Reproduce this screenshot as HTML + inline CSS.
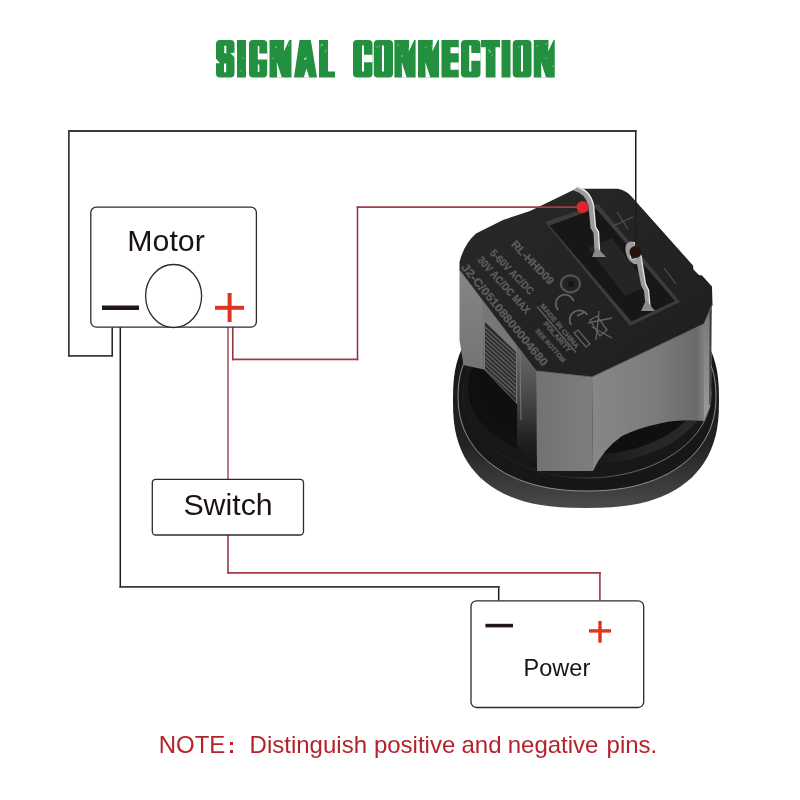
<!DOCTYPE html>
<html><head><meta charset="utf-8">
<style>
html,body{margin:0;padding:0;background:#fff;width:800px;height:800px;overflow:hidden}
svg{display:block;will-change:transform}
text{font-family:"Liberation Sans",sans-serif}
</style></head>
<body>
<svg width="800" height="800" viewBox="0 0 800 800">
<rect width="800" height="800" fill="#fff"/>
<!-- title -->
<path d="M220,40H230.5Q234.5,40 234.5,44V73.5Q234.5,77.5 230.5,77.5H220Q216,77.5 216,73.5V44Q216,40 220,40ZM237,40H246V77.5H237ZM253,40H263.2Q267.2,40 267.2,44V73.5Q267.2,77.5 263.2,77.5H253Q249,77.5 249,73.5V44Q249,40 253,40ZM269.5,40H291.5V77.5H269.5ZM299.5,40H310.8L317,77.5H294ZM319,40H328V71.5H335V77.5H319ZM357,40H368.5Q372.5,40 372.5,44V73.5Q372.5,77.5 368.5,77.5H357Q353,77.5 353,73.5V44Q353,40 357,40ZM377.75,40H389Q393,40 393,44V73.5Q393,77.5 389,77.5H377.75Q373.75,77.5 373.75,73.5V44Q373.75,40 377.75,40ZM394.4,40H415.6V77.5H394.4ZM418,40H439V77.5H418ZM441.5,40H458.75V77.5H441.5ZM465,40H476.5Q480.5,40 480.5,44V73.5Q480.5,77.5 476.5,77.5H465Q461,77.5 461,73.5V44Q461,40 465,40ZM481,40H500V47.25H495.5V77.5H485.75V47.25H481ZM501.5,40H510.5V77.5H501.5ZM516.75,40H527.5Q531.5,40 531.5,44V73.5Q531.5,77.5 527.5,77.5H516.75Q512.75,77.5 512.75,73.5V44Q512.75,40 516.75,40ZM533.75,40H554.75V77.5H533.75Z" fill="#22903f"/>
<path d="M224.3,45.8H226.3V53.2H224.3ZM234.7,52.5L230.5,53.3L234.7,57.5ZM224,63.4H226.2V72.2H224ZM215.8,58.5L215.8,63.2L220,63.2ZM257.8,46H259.3V59.5H257.8ZM259.3,53.5H267.3V59.5H259.3ZM257.8,64.4H259.3V72H257.8ZM303.8,77.6L306.5,68.5L309.2,77.6ZM362,45.5H364V71.5H362ZM364,54.75H372.6V62.25H364ZM382,45.5H384V71.5H382ZM450.5,47.25H458.8V53.25H450.5ZM450.5,62.5H458.8V69.75H450.5ZM469.2,45.5H471.3V71.5H469.2ZM471.3,53H480.6V60.75H471.3ZM521,45.5H523V71.5H521Z M276.8,62L277.1,77.6H281.8Z M284.3,39.9H289.3L283.9,51.5Z M401.7,62L402.0,77.6H406.7Z M409.2,39.9H414.2L408.79999999999995,51.5Z M425.3,62L425.6,77.6H430.3Z M432.8,39.9H437.8L432.4,51.5Z M541.05,62L541.35,77.6H546.05Z M548.55,39.9H553.55L548.15,51.5Z " fill="#fff"/>
<g fill="#c8e8cc">
<circle cx="243" cy="58" r="0.6"/><circle cx="241" cy="71" r="0.5"/><circle cx="276" cy="47" r="0.7"/><circle cx="273" cy="58" r="0.6"/>
<circle cx="289" cy="45" r="0.6"/><circle cx="306" cy="58" r="0.7"/><circle cx="322" cy="45" r="0.8"/><circle cx="326" cy="50" r="0.6"/>
<circle cx="379" cy="46" r="0.6"/><circle cx="398" cy="45" r="0.6"/><circle cx="402" cy="56" r="0.7"/><circle cx="426" cy="47" r="0.6"/>
<circle cx="484" cy="48" r="0.7"/><circle cx="490" cy="52" r="0.8"/><circle cx="537" cy="46" r="0.6"/><circle cx="553" cy="66" r="0.6"/>
<circle cx="305" cy="59" r="0.9"/><circle cx="320" cy="46" r="0.6"/><circle cx="325" cy="52" r="0.5"/><circle cx="292" cy="48" r="0.5"/>
<circle cx="377" cy="47" r="0.5"/><circle cx="409" cy="49" r="0.5"/><circle cx="432" cy="46" r="0.6"/><circle cx="489" cy="50" r="0.7"/>
<circle cx="492" cy="55" r="0.5"/><circle cx="519" cy="47" r="0.5"/><circle cx="546" cy="44" r="0.6"/><circle cx="546" cy="58" r="0.5"/>
</g>

<!-- METER -->
<g id="meter">
<defs>
<linearGradient id="ringband" x1="0" y1="0" x2="0" y2="1">
<stop offset="0" stop-color="#101010"/><stop offset="0.7" stop-color="#222"/><stop offset="1" stop-color="#4a4a4a"/>
</linearGradient>
<linearGradient id="topface" x1="0" y1="0" x2="1" y2="1">
<stop offset="0" stop-color="#292929"/><stop offset="0.5" stop-color="#232323"/><stop offset="1" stop-color="#1f1f1f"/>
</linearGradient>
<linearGradient id="f2g" x1="0" y1="0" x2="1" y2="0">
<stop offset="0" stop-color="#878787"/><stop offset="0.55" stop-color="#7c7c7c"/><stop offset="0.93" stop-color="#6a6a6a"/><stop offset="1" stop-color="#808080"/>
</linearGradient>
<linearGradient id="f1g" x1="0" y1="0" x2="1" y2="0">
<stop offset="0" stop-color="#727272"/><stop offset="1" stop-color="#7e7e7e"/>
</linearGradient>
<linearGradient id="colg" x1="0" y1="0" x2="0" y2="1">
<stop offset="0" stop-color="#6a6a6a"/><stop offset="0.4" stop-color="#4a4a4a"/><stop offset="0.75" stop-color="#222"/><stop offset="1" stop-color="#111"/>
</linearGradient>
<linearGradient id="l1g" x1="0" y1="0" x2="0" y2="1">
<stop offset="0" stop-color="#858585"/><stop offset="1" stop-color="#747474"/>
</linearGradient>
<linearGradient id="rstrip" x1="0" y1="0" x2="0" y2="1">
<stop offset="0" stop-color="#777"/><stop offset="1" stop-color="#9a9a9a"/>
</linearGradient>
</defs>
<!-- ring -->
<linearGradient id="lipg" x1="0" y1="0" x2="1" y2="0">
<stop offset="0" stop-color="#0f0f0f"/><stop offset="0.45" stop-color="#141414"/><stop offset="0.75" stop-color="#262626"/><stop offset="1" stop-color="#2a2a2a"/>
</linearGradient>
<path d="M719.0,400.0 L718.8,412.2 L718.1,421.2 L717.0,429.2 L715.4,436.6 L713.3,443.6 L710.8,450.1 L707.9,456.2 L704.5,462.0 L700.7,467.5 L696.5,472.6 L691.9,477.4 L686.8,481.8 L681.3,486.0 L675.4,489.7 L669.1,493.2 L662.4,496.3 L655.2,499.0 L647.7,501.4 L639.6,503.4 L631.1,505.0 L622.0,506.3 L612.1,507.3 L601.0,507.8 L586.0,508.0 L571.0,507.8 L559.9,507.3 L550.0,506.3 L540.9,505.0 L532.4,503.4 L524.3,501.4 L516.8,499.0 L509.6,496.3 L502.9,493.2 L496.6,489.7 L490.7,486.0 L485.2,481.8 L480.1,477.4 L475.5,472.6 L471.3,467.5 L467.5,462.0 L464.1,456.2 L461.2,450.1 L458.7,443.6 L456.6,436.6 L455.0,429.2 L453.9,421.2 L453.2,412.2 L453.0,400.0 L453.2,387.8 L453.9,378.8 L455.0,370.8 L456.6,363.4 L458.7,356.4 L461.2,349.9 L464.1,343.8 L467.5,338.0 L471.3,332.5 L475.5,327.4 L480.1,322.6 L485.2,318.2 L490.7,314.0 L496.6,310.3 L502.9,306.8 L509.6,303.7 L516.8,301.0 L524.3,298.6 L532.4,296.6 L540.9,295.0 L550.0,293.7 L559.9,292.7 L571.0,292.2 L586.0,292.0 L601.0,292.2 L612.1,292.7 L622.0,293.7 L631.1,295.0 L639.6,296.6 L647.7,298.6 L655.2,301.0 L662.4,303.7 L669.1,306.8 L675.4,310.3 L681.3,314.0 L686.8,318.2 L691.9,322.6 L696.5,327.4 L700.7,332.5 L704.5,338.0 L707.9,343.8 L710.8,349.9 L713.3,356.4 L715.4,363.4 L717.0,370.8 L718.1,378.8 L718.8,387.8Z" fill="url(#ringband)"/>
<path d="M716.0,396.0 L715.7,404.0 L715.0,410.9 L713.7,417.5 L712.0,423.8 L709.8,429.9 L707.0,435.7 L703.8,441.3 L700.2,446.6 L696.1,451.7 L691.5,456.5 L686.5,461.1 L681.1,465.3 L675.3,469.3 L669.2,473.0 L662.6,476.3 L655.7,479.4 L648.4,482.1 L640.9,484.4 L633.0,486.4 L624.8,488.1 L616.2,489.3 L607.3,490.3 L597.8,490.8 L587.0,491.0 L576.2,490.8 L566.7,490.3 L557.8,489.3 L549.2,488.1 L541.0,486.4 L533.1,484.4 L525.6,482.1 L518.3,479.4 L511.4,476.3 L504.8,473.0 L498.7,469.3 L492.9,465.3 L487.5,461.1 L482.5,456.5 L477.9,451.7 L473.8,446.6 L470.2,441.3 L467.0,435.7 L464.2,429.9 L462.0,423.8 L460.3,417.5 L459.0,410.9 L458.3,404.0 L458.0,396.0 L458.3,388.0 L459.0,381.1 L460.3,374.5 L462.0,368.2 L464.2,362.1 L467.0,356.3 L470.2,350.7 L473.8,345.4 L477.9,340.3 L482.5,335.5 L487.5,330.9 L492.9,326.7 L498.7,322.7 L504.8,319.0 L511.4,315.7 L518.3,312.6 L525.6,309.9 L533.1,307.6 L541.0,305.6 L549.2,303.9 L557.8,302.7 L566.7,301.7 L576.2,301.2 L587.0,301.0 L597.8,301.2 L607.3,301.7 L616.2,302.7 L624.8,303.9 L633.0,305.6 L640.9,307.6 L648.4,309.9 L655.7,312.6 L662.6,315.7 L669.2,319.0 L675.3,322.7 L681.1,326.7 L686.5,330.9 L691.5,335.5 L696.1,340.3 L700.2,345.4 L703.8,350.7 L707.0,356.3 L709.8,362.1 L712.0,368.2 L713.7,374.5 L715.0,381.1 L715.7,388.0Z" fill="#171717" stroke="#9a9a9a" stroke-width="0.9"/>
<linearGradient id="secg" x1="0" y1="0" x2="1" y2="0"><stop offset="0" stop-color="#1e1e1e"/><stop offset="0.4" stop-color="#2a2a2a"/><stop offset="0.7" stop-color="#808080"/><stop offset="1" stop-color="#909090"/></linearGradient>
<ellipse cx="587" cy="394" rx="124" ry="84" fill="#181818" stroke="url(#secg)" stroke-width="0.8"/>
<ellipse cx="588.5" cy="388" rx="116" ry="71" fill="#0f0f0f" stroke="url(#lipg)" stroke-width="9"/>
<!-- body side faces -->
<polygon points="459.5,270 483,300.5 484,369.5 463.5,365 459.5,340" fill="url(#l1g)"/>
<polygon points="482,299 517,345 517,404 484,369.5" fill="#777"/>
<polygon points="485,322 516,352 516,402 485,370" fill="#2a2a2a"/>
<g stroke="#5a5a5a" stroke-width="1.6"><line x1="485" y1="327.0" x2="516" y2="355.0"/><line x1="485" y1="331.2" x2="516" y2="359.2"/><line x1="485" y1="335.4" x2="516" y2="363.4"/><line x1="485" y1="339.6" x2="516" y2="367.6"/><line x1="485" y1="343.8" x2="516" y2="371.8"/><line x1="485" y1="348.0" x2="516" y2="376.0"/><line x1="485" y1="352.2" x2="516" y2="380.2"/><line x1="485" y1="356.4" x2="516" y2="384.4"/><line x1="485" y1="360.6" x2="516" y2="388.6"/><line x1="485" y1="364.8" x2="516" y2="392.8"/><line x1="485" y1="369.0" x2="516" y2="397.0"/></g>
<polygon points="517,345 536,371 537,470 517,445" fill="url(#colg)"/>
<line x1="520" y1="350" x2="521" y2="420" stroke="#777" stroke-width="1"/>
<polygon points="536,371 592,377 593,471 537,471" fill="url(#f1g)"/>
<path d="M592,377 L704,324 L704,421 Q680,419 662,423 Q638,428 622,436 Q603,449 593,471 Z" fill="url(#f2g)"/>
<polygon points="704,324 712,305 711,404 704,421" fill="url(#rstrip)"/>
<line x1="710.5" y1="306" x2="710" y2="405" stroke="#3a3a3a" stroke-width="1.5"/>
<!-- top face -->
<path d="M459.5,270 L459.5,262 Q464,244 476,233.5 L503,220 L530,211 L576,188.7 L618,188.7 Q627,191 631,196 L693,265.5 L693.5,269.5 L699,275 L702,275.5 L712,286.5 L712.5,305 L704,324 L592,377 L536,371 Z" fill="url(#topface)"/>
<path d="M459.5,270 L536,371 L592,377 L704,324 L712,305" fill="none" stroke="#6a6a6a" stroke-width="1"/>
<!-- recess -->
<polygon points="545,222 598,204 680,302 630,326" fill="#3c3c3c"/>
<polygon points="549.5,225.5 596,208.5 675,301 631.5,321.5" fill="#171717"/>
<polygon points="588,248 612,238 648,286 625,296" fill="#252525"/>
<!-- pins -->
<path d="M573.5,190.5 Q585,193 588.5,206 L590.5,228 L593.5,233 L594.5,251 L599.5,251 L598.5,232 L595.5,227 L593.5,205 Q590,190 577.5,186.5 Z" fill="#9c9c9c"/>
<path d="M577.5,187 Q590,190.5 593.5,205 L595.5,227 L598.5,232 L599.5,251" fill="none" stroke="#e6e6e6" stroke-width="1.4"/>
<path d="M592,257 L596.5,247 L606,257 Z" fill="#8a8a8a"/>
<path d="M626,245 Q629,240 634,242 L641,256 L645.5,284 L648.5,290 L650,306 L645.5,306 L644,291 L641,285 L637,264 Q633,265 629,260 Q624,252 626,245 Z" fill="#9c9c9c"/>
<path d="M634,242 L641,256 L645.5,284 L648.5,290 L650,306" fill="none" stroke="#e6e6e6" stroke-width="1.3"/>
<ellipse cx="633" cy="256" rx="2.6" ry="3.6" fill="#2a2a2a" stroke="#e0e0e0" stroke-width="1"/>
<path d="M641,311 L646,300 L655,311 Z" fill="#8a8a8a"/>
<!-- embossed marks -->
<g stroke="#505050" stroke-width="1.2">
<line x1="613" y1="226" x2="633" y2="217"/><line x1="617" y1="212" x2="628" y2="229"/>
<line x1="664" y1="268" x2="676" y2="284"/>
</g>
<!-- screw -->
<ellipse cx="570.5" cy="283.8" rx="9.5" ry="8.5" fill="none" stroke="#545454" stroke-width="2.2"/>
<circle cx="571" cy="284" r="3" fill="#141414"/>
<!-- label text -->
<g fill="#5c5c5c" stroke="#5c5c5c" stroke-width="0.35" font-family="Liberation Sans" font-weight="bold" font-size="11">
<text transform="translate(510.7,245) rotate(46.3)" textLength="56" lengthAdjust="spacingAndGlyphs">RL-HHD09</text>
<text transform="translate(489.2,253.4) rotate(46)" textLength="58" lengthAdjust="spacingAndGlyphs" font-size="10.5">5-60V AC/DC</text>
<text transform="translate(476.9,260.3) rotate(48)" textLength="73" lengthAdjust="spacingAndGlyphs" font-size="10.5">30V AC/DC MAX</text>
<text transform="translate(460.7,267.5) rotate(50.5)" textLength="129" lengthAdjust="spacingAndGlyphs" font-size="11.5">J2-C/05108800004680</text>
<text transform="translate(540,306) rotate(50)" textLength="56" lengthAdjust="spacingAndGlyphs" font-size="6.5">MADE IN CHINA</text>
<text transform="translate(543,324) rotate(49)" textLength="38" lengthAdjust="spacingAndGlyphs" font-size="7">POLARITY</text>
<text transform="translate(535,331) rotate(49)" textLength="42" lengthAdjust="spacingAndGlyphs" font-size="6.5">SEE BOTTOM</text>
</g>
<g fill="none" stroke="#636363" stroke-width="1.8">
<path d="M573.5,301 A9,9 0 1,0 558.5,310"/>
<path d="M587.5,315 A9,9 0 1,0 571,325 M577,316 L585,312"/>
<line x1="537" y1="306.5" x2="576" y2="352.5" stroke-width="1.2"/>
<path d="M574,333 L586,347 L590,344 L578,330 Z" stroke-width="1.2"/>
</g>
<g stroke="#636363" stroke-width="1.3" fill="none">
<path d="M590,320 L600,336 L607,330 L597,316 Z M588,323 L612,318 M599,311 L596,340 M592,327 L612,338"/>
</g>
</g>
<!-- wires -->
<g fill="none" stroke-linecap="square">
<path d="M112.2,327.5V355.8M68.9,355.8V131M635.75,131V252M120.3,327.5V586.8M498.7,586.8V600" stroke="#1c1c1c" stroke-width="1.5"/>
<path d="M112.2,355.8H68.9M68.9,131H635.75M120.3,586.8H498.7" stroke="#3a3a3a" stroke-width="1.8"/>
<path d="M232.8,327.5V359.4M357.5,359.4V207.1M228,535V572.8M599.9,572.8V600" stroke="#8e2f3a" stroke-width="1.5"/>
<path d="M228,327.5V479.3" stroke="#b06a74" stroke-width="1.8"/>
<path d="M232.8,359.4H357.5M357.5,207.1H582M228,572.8H599.9" stroke="#a33a45" stroke-width="1.7"/>
</g>
<circle cx="582.5" cy="207" r="6" fill="#e0262b"/>
<circle cx="635.5" cy="252" r="6" fill="#2a1210"/>

<!-- motor box -->
<rect x="90.8" y="207.2" width="165.6" height="120" rx="5.5" fill="#fff" stroke="#2e2a2a" stroke-width="1.3"/>
<text x="127.3" y="251" font-size="30.3" fill="#1a1311">Motor</text>
<ellipse cx="173.6" cy="296" rx="28" ry="31.5" fill="#fff" stroke="#2e2a2a" stroke-width="1.3"/>
<rect x="102" y="305.5" width="37" height="4.5" fill="#231815"/>
<rect x="215" y="305.8" width="29" height="4" fill="#e0341e"/>
<rect x="227.6" y="293" width="4" height="29" fill="#e0341e"/>

<!-- switch box -->
<rect x="152.3" y="479.3" width="151.2" height="55.7" rx="3.5" fill="#fff" stroke="#2e2a2a" stroke-width="1.3"/>
<text x="183.4" y="515.2" font-size="30.3" fill="#1a1311">Switch</text>

<!-- power box -->
<rect x="471" y="600.8" width="172.7" height="106.7" rx="5.5" fill="#fff" stroke="#2e2a2a" stroke-width="1.3"/>
<rect x="485.4" y="623.8" width="27.6" height="3.6" fill="#231815"/>
<rect x="589" y="629.2" width="22" height="3.4" fill="#e0341e"/>
<rect x="598.3" y="621" width="3.4" height="21.7" fill="#e0341e"/>
<text x="523.6" y="676.3" font-size="23.5" fill="#1a1311">Power</text>

<!-- note -->
<g font-size="24" fill="#b4232c">
<text x="158.7" y="752.9">NOTE</text>
<rect x="230" y="742" width="3" height="3"/><rect x="230" y="750" width="3" height="3"/>
<text x="249.6" y="752.9">Distinguish</text>
<text x="373.9" y="752.9">positive</text>
<text x="461.5" y="752.9">and</text>
<text x="507.7" y="752.9">negative</text>
<text x="606.6" y="752.9">pins.</text>
</g>
</svg>
</body></html>
